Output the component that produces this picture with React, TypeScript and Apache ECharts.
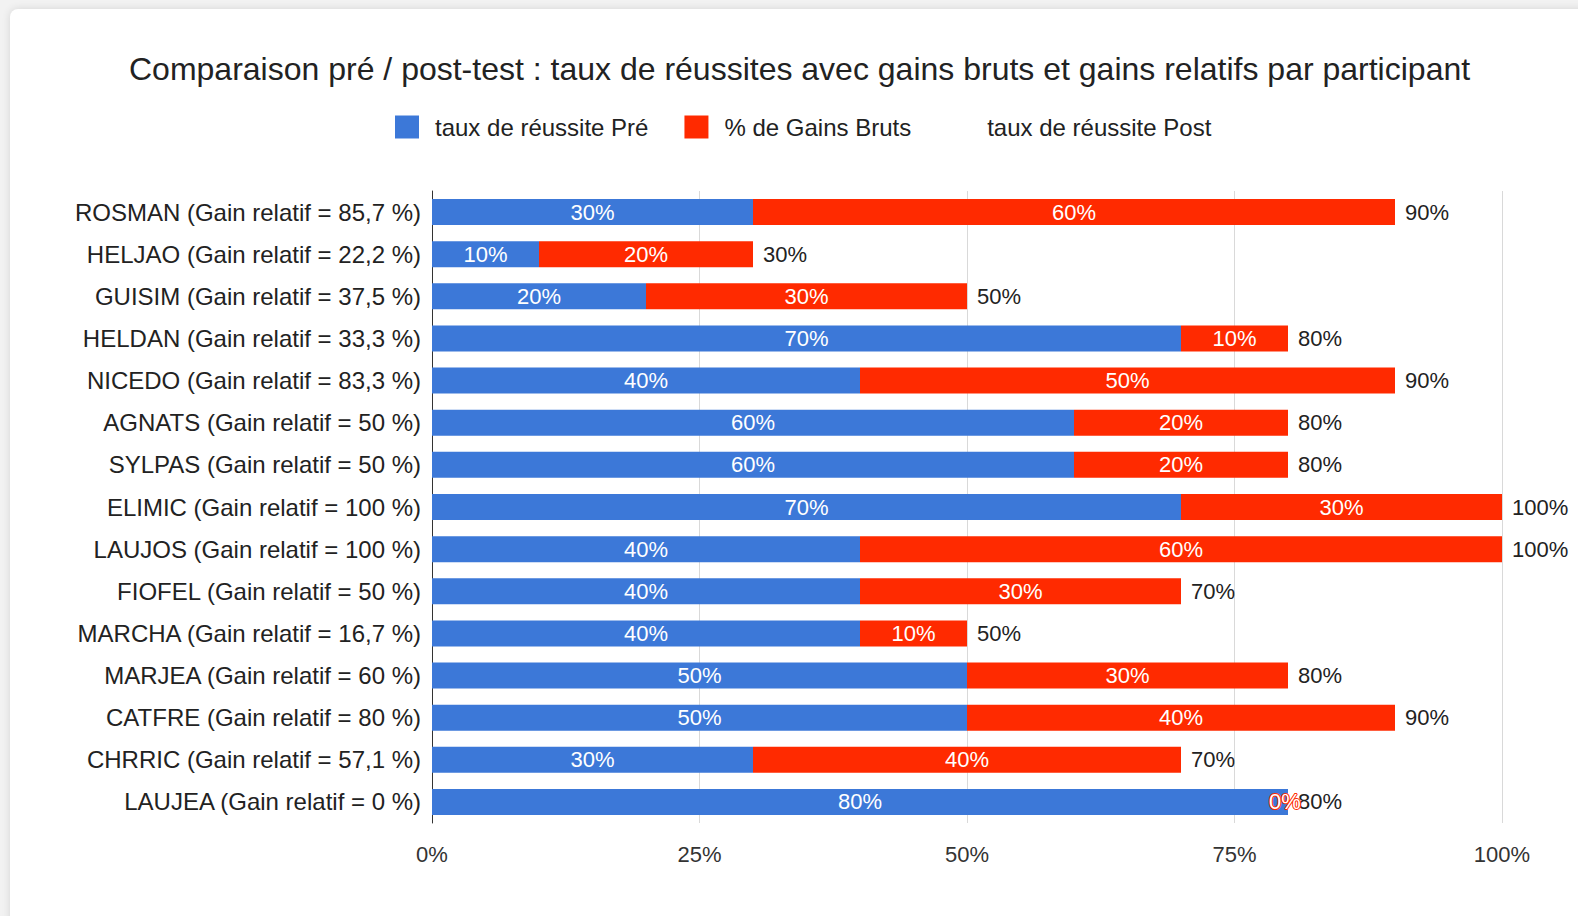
import React, { useEffect, useRef } from "react";
import * as echarts from "echarts";

const categories = [
  "ROSMAN (Gain relatif = 85,7 %)",
  "HELJAO (Gain relatif = 22,2 %)",
  "GUISIM (Gain relatif = 37,5 %)",
  "HELDAN (Gain relatif = 33,3 %)",
  "NICEDO (Gain relatif = 83,3 %)",
  "AGNATS (Gain relatif = 50 %)",
  "SYLPAS (Gain relatif = 50 %)",
  "ELIMIC (Gain relatif = 100 %)",
  "LAUJOS (Gain relatif = 100 %)",
  "FIOFEL (Gain relatif = 50 %)",
  "MARCHA (Gain relatif = 16,7 %)",
  "MARJEA (Gain relatif = 60 %)",
  "CATFRE (Gain relatif = 80 %)",
  "CHRRIC (Gain relatif = 57,1 %)",
  "LAUJEA (Gain relatif = 0 %)",
];
const preValues = [30, 10, 20, 70, 40, 60, 60, 70, 40, 40, 40, 50, 50, 30, 80];
const gainValues = [60, 20, 30, 10, 50, 20, 20, 30, 60, 30, 10, 30, 40, 40, 0];
const postValues = [90, 30, 50, 80, 90, 80, 80, 100, 100, 70, 50, 80, 90, 70, 80];
const xTicks = [0, 25, 50, 75, 100];

const FONT = "'Liberation Sans', Arial, Helvetica, sans-serif";
const BLUE = "#3c78d8";
const RED = "#ff2a00";

export default function App() {
  const ref = useRef<HTMLDivElement>(null);
  useEffect(() => {
    document.body.style.margin = "0";
    const chart = echarts.init(ref.current!, null, { renderer: "svg" });
    chart.setOption({
      animation: false,
      textStyle: { fontFamily: FONT },
      title: {
        text: "Comparaison pré / post-test : taux de réussites avec gains bruts et gains relatifs par participant",
        left: 124,
        top: 48,
        textStyle: { fontSize: 32, fontWeight: "normal", color: "#222", fontFamily: FONT },
      },
      legend: {
        top: 110,
        left: 390,
        itemWidth: 24,
        itemHeight: 23,
        itemGap: 36,
        icon: "rect",
        textStyle: { fontSize: 24, color: "#222", fontFamily: FONT, padding: [0, 0, 0, 11] },
        data: ["taux de réussite Pré", "% de Gains Bruts", "taux de réussite Post"],
      },
      grid: { left: 432, right: 76, top: 191, bottom: 93, containLabel: false },
      xAxis: {
        type: "value",
        min: xTicks[0],
        max: xTicks[xTicks.length - 1],
        interval: 25,
        axisLabel: { formatter: "{value}%", fontSize: 22, color: "#333", margin: 20, fontFamily: FONT },
        splitLine: { show: true, lineStyle: { color: "#d9d9d9", width: 1 } },
        axisLine: { show: false },
        axisTick: { show: false },
      },
      yAxis: {
        type: "category",
        inverse: true,
        data: categories,
        axisLabel: { fontSize: 24, color: "#222", margin: 11, fontFamily: FONT },
        axisLine: { show: true, lineStyle: { color: "#333", width: 1 } },
        axisTick: { show: false },
      },
      series: [
        {
          name: "taux de réussite Pré",
          type: "bar",
          stack: "a",
          barWidth: 26,
          itemStyle: { color: BLUE },
          label: {
            show: true,
            position: "inside",
            formatter: "{c}%",
            color: "#fff",
            fontSize: 22,
            fontFamily: FONT,
          },
          data: preValues,
        },
        {
          name: "% de Gains Bruts",
          type: "bar",
          stack: "a",
          barWidth: 26,
          itemStyle: { color: RED },
          label: {
            show: true,
            position: "inside",
            formatter: "{c}%",
            color: "#fff",
            fontSize: 22,
            fontFamily: FONT,
          },
          data: gainValues.map((v) =>
            v === 0
              ? {
                  value: v,
                  label: {
                    color: "#fff",
                    textBorderColor: RED,
                    textBorderWidth: 2,
                    offset: [-3, 0],
                  },
                }
              : v
          ),
        },
        {
          name: "taux de réussite Post",
          type: "bar",
          barWidth: 26,
          barGap: "-100%",
          z: 1,
          itemStyle: { color: "rgba(0,0,0,0)" },
          label: {
            show: true,
            position: "right",
            distance: 10,
            formatter: "{c}%",
            color: "#222",
            fontSize: 22,
            fontFamily: FONT,
          },
          data: postValues,
        },
      ],
    });
    return () => chart.dispose();
  }, []);

  return (
    <div style={{ position: "relative", width: 1578, height: 916, background: "#f2f2f2", overflow: "hidden" }}>
      <div
        style={{
          position: "absolute",
          left: 10,
          top: 9,
          width: 1600,
          height: 940,
          background: "#fff",
          borderRadius: 8,
          boxShadow: "0 0 8px rgba(0,0,0,0.12)",
        }}
      />
      <div ref={ref} style={{ position: "absolute", left: 0, top: 0, width: 1578, height: 916 }} />
    </div>
  );
}
